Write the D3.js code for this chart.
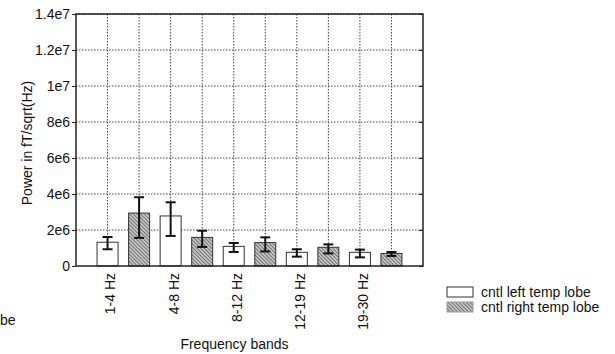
<!DOCTYPE html>
<html>
<head>
<meta charset="utf-8">
<script src="https://cdn.jsdelivr.net/npm/d3@7"></script>
<style>
  body { margin: 0; background: #fff; }
  svg { font-family: "Liberation Sans", Arial, sans-serif; }
</style>
</head>
<body>
<svg width="615" height="354"></svg>
<script>
// frequency bands and group values (fT/sqrt(Hz))
var bands = ["1-4 Hz", "4-8 Hz", "8-12 Hz", "12-19 Hz", "19-30 Hz"];
var groups = ["cntl left temp lobe", "cntl right temp lobe"];

var leftMean = [1.32e6, 2.78e6, 1.09e6, 0.76e6, 0.76e6];
var leftLow  = [0.93e6, 1.67e6, 0.78e6, 0.52e6, 0.48e6];
var leftHigh = [1.61e6, 3.54e6, 1.28e6, 0.93e6, 0.91e6];

var rightMean = [2.94e6, 1.59e6, 1.30e6, 1.04e6, 0.70e6];
var rightLow  = [1.56e6, 1.06e6, 0.81e6, 0.70e6, 0.56e6];
var rightHigh = [3.82e6, 1.96e6, 1.59e6, 1.20e6, 0.78e6];

var yTicks = [0, 2e6, 4e6, 6e6, 8e6, 1e7, 1.2e7, 1.4e7];
var yTickLabels = ["0", "2e6", "4e6", "6e6", "8e6", "1e7", "1.2e7", "1.4e7"];

var margin = { top: 14, left: 76, right: 192, bottom: 88 };
var width = 615 - margin.left - margin.right;   // 347
var height = 354 - margin.top - margin.bottom;  // 252

var svg = d3.select("svg");

// one slot per bar: band0-left, band0-right, band1-left ...
var bars = [];
bands.forEach(function (b, i) {
    bars.push({ key: b + "|L", band: b, grp: 0, mean: leftMean[i], lo: leftLow[i], hi: leftHigh[i] });
    bars.push({ key: b + "|R", band: b, grp: 1, mean: rightMean[i], lo: rightLow[i], hi: rightHigh[i] });
});

var x = d3.scalePoint().domain(bars.map(function (d) { return d.key; }))
    .range([0, width]).padding(1);
var y = d3.scaleLinear().domain([0, 1.4e7]).range([height, 0]);

var defs = svg.append("defs");
var pat = defs.append("pattern")
    .attr("id", "hatch")
    .attr("patternUnits", "userSpaceOnUse")
    .attr("width", 2.6).attr("height", 2.6)
    .attr("patternTransform", "rotate(-45)");
pat.append("rect").attr("width", 2.6).attr("height", 2.6).attr("fill", "#c4c4c4");
pat.append("line").attr("x1", 0).attr("y1", 0).attr("x2", 0).attr("y2", 2.6)
    .attr("stroke", "#444").attr("stroke-width", 1.2);

var g = svg.append("g").attr("transform", "translate(" + margin.left + "," + margin.top + ")");

// grid
g.append("g").selectAll("line").data(yTicks.slice(1)).enter().append("line")
    .attr("x1", 0).attr("x2", width)
    .attr("y1", function (d) { return y(d); }).attr("y2", function (d) { return y(d); })
    .attr("stroke", "#444").attr("stroke-width", 1).attr("stroke-dasharray", "1.5,1.5");
g.append("g").selectAll("line").data(bars).enter().append("line")
    .attr("x1", function (d) { return x(d.key); }).attr("x2", function (d) { return x(d.key); })
    .attr("y1", 0).attr("y2", height)
    .attr("stroke", "#444").attr("stroke-width", 1).attr("stroke-dasharray", "1.5,1.5");

// bars
var barW = 21;
g.append("g").selectAll("rect").data(bars).enter().append("rect")
    .attr("x", function (d) { return x(d.key) - barW / 2; })
    .attr("y", function (d) { return y(d.mean); })
    .attr("width", barW)
    .attr("height", function (d) { return y(0) - y(d.mean); })
    .attr("fill", function (d) { return d.grp ? "url(#hatch)" : "#fff"; })
    .attr("stroke", "#333").attr("stroke-width", 1);

// error bars
var eb = g.append("g").selectAll("g").data(bars).enter().append("g")
    .attr("stroke", "#111").attr("stroke-width", 2);
eb.append("line")
    .attr("x1", function (d) { return x(d.key); }).attr("x2", function (d) { return x(d.key); })
    .attr("y1", function (d) { return y(d.lo); }).attr("y2", function (d) { return y(d.hi); });
eb.append("line")
    .attr("x1", function (d) { return x(d.key) - 5; }).attr("x2", function (d) { return x(d.key) + 5; })
    .attr("y1", function (d) { return y(d.hi); }).attr("y2", function (d) { return y(d.hi); });
eb.append("line")
    .attr("x1", function (d) { return x(d.key) - 5; }).attr("x2", function (d) { return x(d.key) + 5; })
    .attr("y1", function (d) { return y(d.lo); }).attr("y2", function (d) { return y(d.lo); });

// frame
g.append("rect").attr("width", width).attr("height", height)
    .attr("fill", "none").attr("stroke", "#222").attr("stroke-width", 1.5);

// left axis
var yAxis = d3.axisLeft(y).tickValues(yTicks)
    .tickFormat(function (d, i) { return yTickLabels[i]; })
    .tickSize(4).tickPadding(2);
var ya = g.append("g").call(yAxis);
ya.select(".domain").remove();
ya.selectAll("text").attr("font-size", 14).attr("fill", "#111")
    .attr("font-family", "'Liberation Sans', Arial, sans-serif");
ya.selectAll("line").attr("stroke", "#222");

// right axis inner ticks
var ra = g.append("g").attr("transform", "translate(" + width + ",0)")
    .call(d3.axisRight(y).tickValues(yTicks).tickSize(-4).tickFormat(""));
ra.select(".domain").remove();
ra.selectAll("line").attr("stroke", "#222");

// x labels, one per band under the left bar
g.append("g").selectAll("text").data(bars.filter(function (d) { return d.grp === 0; }))
    .enter().append("text")
    .attr("transform", function (d) { return "translate(" + (x(d.key) + 3) + "," + (height + 7) + ") rotate(-90)"; })
    .attr("text-anchor", "end").attr("dy", "0.35em")
    .attr("font-size", 14).attr("fill", "#111")
    .text(function (d) { return d.band; });

// axis titles
svg.append("text")
    .attr("transform", "translate(27,143) rotate(-90)")
    .attr("text-anchor", "middle").attr("dy", "0.35em")
    .attr("font-size", 14).attr("fill", "#111")
    .text("Power in fT/sqrt(Hz)");
svg.append("text")
    .attr("x", margin.left + width / 2 - 15).attr("y", 349)
    .attr("text-anchor", "middle")
    .attr("font-size", 14).attr("fill", "#111")
    .text("Frequency bands");

// legend
var leg = svg.append("g").attr("transform", "translate(447,287)");
groups.forEach(function (name, i) {
    var row = leg.append("g").attr("transform", "translate(0," + (i * 15) + ")");
    row.append("rect").attr("width", 26).attr("height", 10)
        .attr("fill", i ? "url(#hatch)" : "#fff")
        .attr("stroke", i ? "#999" : "#333").attr("stroke-width", 1);
    row.append("text").attr("x", 34).attr("y", 10)
        .attr("font-size", 14).attr("fill", "#111")
        .text(name);
});

// leftover text from the neighbouring figure at the left edge
svg.append("text").attr("x", 0).attr("y", 325)
    .attr("font-size", 14).attr("fill", "#111").text("be");
</script>
</body>
</html>
